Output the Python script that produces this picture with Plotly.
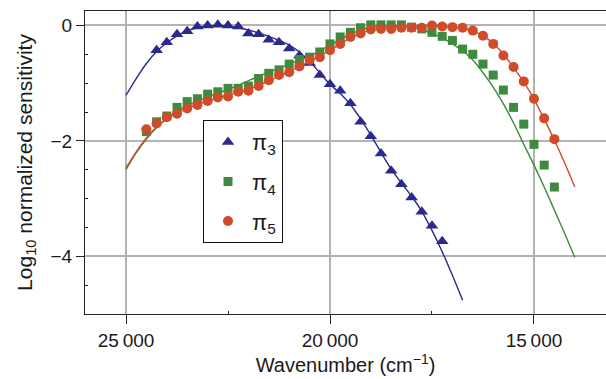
import plotly.graph_objects as go

# ---- data ----
pi3_x = [24250, 24000, 23750, 23500, 23250, 23000, 22750, 22500, 22250, 22000,
         21750, 21500, 21250, 21000, 20750, 20500, 20250, 20000, 19750, 19500,
         19250, 19000, 18750, 18500, 18250, 18000, 17750, 17500, 17250]
pi3_y = [-0.43, -0.29, -0.155, -0.10, -0.02, 0.0, 0.01, 0.0, -0.02, -0.14,
         -0.155, -0.25, -0.29, -0.40, -0.52, -0.65, -0.86, -1.02, -1.13, -1.35,
         -1.67, -1.92, -2.22, -2.52, -2.75, -2.98, -3.23, -3.47, -3.74]

pi45_x = [24500, 24250, 24000, 23750, 23500, 23250, 23000, 22750, 22500, 22250,
          22000, 21750, 21500, 21250, 21000, 20750, 20500, 20250, 20000, 19750,
          19500, 19250, 19000, 18750, 18500, 18250, 18000, 17750, 17500, 17250,
          17000, 16750, 16500, 16250, 16000, 15750, 15500, 15250, 15000, 14750,
          14500]
pi4_y = [-1.84, -1.67, -1.57, -1.42, -1.32, -1.27, -1.19, -1.15, -1.09, -1.09,
         -1.05, -0.92, -0.83, -0.77, -0.67, -0.59, -0.55, -0.46, -0.32, -0.20,
         -0.12, -0.04, 0.01, 0.01, 0.01, 0.01, -0.03, -0.06, -0.12, -0.19,
         -0.26, -0.41, -0.50, -0.67, -0.86, -1.12, -1.42, -1.71, -2.06, -2.42,
         -2.80]
pi5_y = [-1.80, -1.70, -1.59, -1.53, -1.44, -1.38, -1.31, -1.25, -1.23, -1.15,
         -1.13, -1.05, -0.95, -0.86, -0.81, -0.71, -0.60, -0.55, -0.43, -0.32,
         -0.20, -0.14, -0.07, -0.06, -0.06, -0.04, -0.04, -0.04, 0.0, -0.02,
         -0.03, -0.04, -0.09, -0.18, -0.32, -0.52, -0.72, -0.97, -1.27, -1.61,
         -1.97]

fit3_x = [25000, 24750, 24500, 24250, 24000, 23750, 23500, 23250, 23000, 22750,
          22500, 22250, 22000, 21750, 21500, 21250, 21000, 20750, 20500, 20250,
          20000, 19750, 19500, 19250, 19000, 18750, 18500, 18250, 18000, 17750,
          17500, 17250, 17000, 16750]
fit3_y = [-1.21, -0.92, -0.66, -0.45, -0.30, -0.18, -0.09, -0.04, -0.01, 0.0,
          -0.01, -0.04, -0.08, -0.13, -0.19, -0.26, -0.34, -0.46, -0.62, -0.82,
          -1.02, -1.18, -1.37, -1.62, -1.90, -2.20, -2.49, -2.73, -2.96, -3.22,
          -3.55, -3.92, -4.33, -4.76]

fit45_x = [25000, 24750, 24500, 24250, 24000, 23750, 23500, 23250, 23000, 22750,
           22500, 22250, 22000, 21750, 21500, 21250, 21000, 20750, 20500, 20250,
           20000, 19750, 19500, 19250, 19000, 18750, 18500, 18250, 18000, 17750,
           17500, 17250, 17000, 16750, 16500, 16250, 16000, 15750, 15500, 15250,
           15000, 14750, 14500, 14250, 14000]
fit4_y = [-2.50, -2.21, -1.97, -1.77, -1.61, -1.49, -1.39, -1.31, -1.24, -1.17,
          -1.11, -1.04, -0.96, -0.88, -0.81, -0.74, -0.67, -0.60, -0.53, -0.44,
          -0.34, -0.24, -0.15, -0.08, -0.03, -0.01, 0.0, -0.01, -0.03, -0.07,
          -0.14, -0.21, -0.32, -0.44, -0.60, -0.82, -1.07, -1.36, -1.69, -2.06,
          -2.42, -2.80, -3.20, -3.60, -4.02]
fit5_y = [-2.47, -2.19, -1.95, -1.76, -1.62, -1.52, -1.44, -1.37, -1.31, -1.26,
          -1.21, -1.16, -1.11, -1.04, -0.96, -0.88, -0.80, -0.71, -0.62, -0.53,
          -0.43, -0.32, -0.22, -0.14, -0.08, -0.05, -0.03, -0.02, -0.01, -0.01,
          -0.01, -0.02, -0.03, -0.05, -0.10, -0.18, -0.31, -0.50, -0.73, -0.98,
          -1.28, -1.62, -1.99, -2.38, -2.80]

x_ticks = [25000, 20000, 15000]
x_ticktext = ["25\u2009000", "20\u2009000", "15\u2009000"]
y_ticks = [0, -2, -4]
y_ticktext = ["0", "\u22122", "\u22124"]

BLUE = "#2b2a8c"
GREEN = "#3e8a3e"
RED = "#cf4b2a"
FONT = "Liberation Sans, Arial, Helvetica, sans-serif"

fig = go.Figure()

fig.add_trace(go.Scatter(x=fit3_x, y=fit3_y, mode="lines", showlegend=False,
                         line=dict(color=BLUE, width=1.4, shape="spline", smoothing=0.8),
                         hoverinfo="skip"))
fig.add_trace(go.Scatter(x=pi3_x, y=pi3_y, mode="markers", name="\u03c0<sub>3</sub>",
                         legendgroup="g3",
                         marker=dict(symbol="triangle-up", size=11, color=BLUE)))
fig.add_trace(go.Scatter(x=fit45_x, y=fit4_y, mode="lines", showlegend=False,
                         line=dict(color=GREEN, width=1.4, shape="spline", smoothing=0.8),
                         hoverinfo="skip"))
fig.add_trace(go.Scatter(x=pi45_x, y=pi4_y, mode="markers", name="\u03c0<sub>4</sub>",
                         legendgroup="g4",
                         marker=dict(symbol="square", size=9, color=GREEN)))
fig.add_trace(go.Scatter(x=fit45_x, y=fit5_y, mode="lines", showlegend=False,
                         line=dict(color=RED, width=1.4, shape="spline", smoothing=0.8),
                         hoverinfo="skip"))
fig.add_trace(go.Scatter(x=pi45_x, y=pi5_y, mode="markers", name="\u03c0<sub>5</sub>",
                         legendgroup="g5",
                         marker=dict(symbol="circle", size=10, color=RED)))

fig.update_layout(
    width=606, height=379,
    margin=dict(l=85, r=0, t=11, b=65),
    paper_bgcolor="white", plot_bgcolor="white",
    font=dict(family=FONT, size=19, color="#1a1a1a"),
    legend=dict(x=0.2265, y=0.64, xanchor="left", yanchor="top",
                bordercolor="#111111", borderwidth=1, bgcolor="white",
                font=dict(size=22), tracegroupgap=8, traceorder="grouped",
                itemwidth=38),
    xaxis=dict(
        range=[26005, 13235], tickvals=x_ticks, ticktext=x_ticktext,
        showgrid=True, gridcolor="#b3b3b3", gridwidth=1.6,
        zeroline=False, showline=True, linecolor="#222222", linewidth=1.2,
        mirror=True, ticks="outside", ticklen=9, tickcolor="#222222",
        minor=dict(tickvals=[22500, 17500], ticks="inside", ticklen=3,
                   tickcolor="#222222", showgrid=False),
        title=dict(text="Wavenumber (cm<sup>\u22121</sup>)", font=dict(size=20), standoff=6),
    ),
    yaxis=dict(
        range=[-5, 0.25], tickvals=y_ticks, ticktext=y_ticktext,
        showgrid=True, gridcolor="#b3b3b3", gridwidth=1.6,
        zeroline=False, showline=True, linecolor="#222222", linewidth=1.2,
        ticks="outside", ticklen=8, tickcolor="#222222",
        minor=dict(tickvals=[-0.5, -1, -1.5, -2.5, -3, -3.5, -4.5], ticks="inside",
                   ticklen=3, tickcolor="#222222", showgrid=False),
        title=dict(text="Log<sub>10</sub> normalized sensitivity", font=dict(size=21), standoff=12),
    ),
)

fig.write_html("out.html")
